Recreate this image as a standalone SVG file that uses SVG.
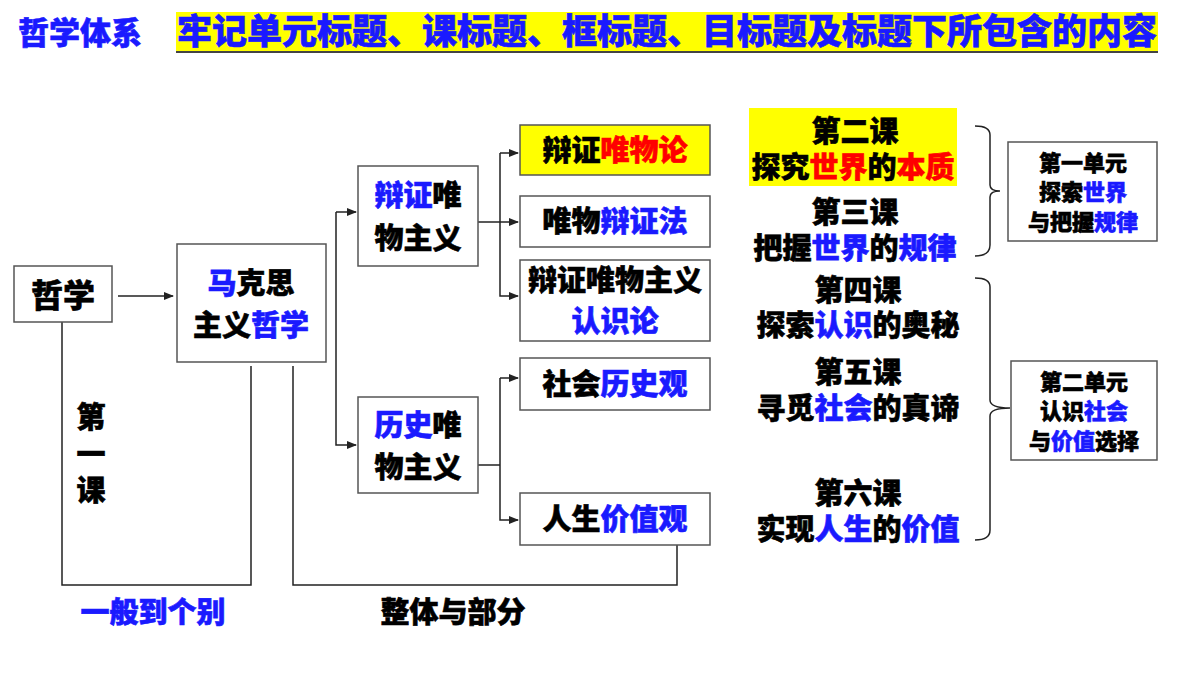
<svg xmlns="http://www.w3.org/2000/svg" width="1200" height="675" viewBox="0 0 1200 675">
<style>
text{font-family:"Noto Sans CJK SC","Liberation Sans",sans-serif;font-weight:900;fill:#000;text-anchor:middle;stroke:#000;stroke-width:0.6}
.b{fill:#1a1aff;stroke:#1a1aff}.r{fill:#ff0000;stroke:#ff0000}
.box{fill:#fff;stroke:#555;stroke-width:1.5}
.ln{fill:none;stroke:#222;stroke-width:1.5}
.t28{font-size:32px}.t26{font-size:29px}.t21{font-size:22px}
</style>
<defs><marker id="ar" viewBox="0 0 10 10" refX="9" refY="5" markerWidth="7" markerHeight="7" orient="auto"><path d="M0,1 L10,5 L0,9 z" fill="#222"/></marker></defs>
<rect width="1200" height="675" fill="#fff"/>
<g id="title">
<text x="18" y="44" class="b" style="font-size:31px;text-anchor:start">哲学体系</text>
<rect x="176" y="12" width="982" height="40" fill="#ffff00"/>
<line x1="176" y1="52" x2="1158" y2="52" stroke="#444" stroke-width="2"/>
<text x="667" y="44" class="b" style="font-size:35px">牢记单元标题、课标题、框标题、目标题及标题下所包含的内容</text>
</g>
<g id="connectors">
<line class="ln" x1="118" y1="296" x2="173" y2="296" marker-end="url(#ar)"/>
<polyline class="ln" points="336,212 336,445 356,445" marker-end="url(#ar)"/>
<line class="ln" x1="336" y1="212" x2="356" y2="212" marker-end="url(#ar)"/>
<line class="ln" x1="478" y1="222" x2="518" y2="222" marker-end="url(#ar)"/>
<polyline class="ln" points="500,153 500,296 518,296" marker-end="url(#ar)"/>
<line class="ln" x1="500" y1="153" x2="518" y2="153" marker-end="url(#ar)"/>
<line class="ln" x1="478" y1="465" x2="500" y2="465"/>
<polyline class="ln" points="500,378 500,520 518,520" marker-end="url(#ar)"/>
<line class="ln" x1="500" y1="378" x2="518" y2="378" marker-end="url(#ar)"/>
<polyline class="ln" points="62,322 62,585 251,585 251,366"/>
<polyline class="ln" points="293,366 293,585 677,585 677,545"/>
<path class="ln" d="M975,126 Q990,126 990,135 L990,185 Q990,191 1000,191 Q990,191 990,197 L990,245 Q990,256 975,256"/>
<path class="ln" d="M975,278 Q990,278 990,287 L990,400 Q990,408 1010,408 Q990,408 990,416 L990,530 Q990,540 975,540"/>
</g>
<g id="n-zhexue"><rect class="box" x="14" y="266" width="98" height="56"/><text x="63" y="307" class="t28">哲学</text></g>
<g id="n-makesi"><rect class="box" x="177" y="244" width="149" height="118"/><text x="251" y="294" class="t26"><tspan class="b">马</tspan>克思</text><text x="251" y="336" class="t26">主义<tspan class="b">哲学</tspan></text></g>
<g id="n-bianzheng"><rect class="box" x="358" y="166" width="120" height="100"/><text x="418" y="206" class="t26"><tspan class="b">辩证</tspan>唯</text><text x="418" y="249" class="t26">物主义</text></g>
<g id="n-lishi"><rect class="box" x="358" y="397" width="120" height="96"/><text x="418" y="436" class="t26"><tspan class="b">历史</tspan>唯</text><text x="418" y="478" class="t26">物主义</text></g>
<g id="n-weiwulun"><rect x="520" y="125" width="190" height="50" fill="#ffff00" stroke="#555" stroke-width="1.5"/><text x="615" y="161" class="t26">辩证<tspan class="r">唯物论</tspan></text></g>
<g id="n-bianzhengfa"><rect class="box" x="520" y="196" width="190" height="51"/><text x="615" y="232" class="t26">唯物<tspan class="b">辩证法</tspan></text></g>
<g id="n-renshilun"><rect class="box" x="520" y="260" width="190" height="81"/><text x="615" y="291" class="t26">辩证唯物主义</text><text x="615" y="332" class="t26 b">认识论</text></g>
<g id="n-lishiguan"><rect class="box" x="520" y="358" width="190" height="52"/><text x="615" y="395" class="t26">社会<tspan class="b">历史观</tspan></text></g>
<g id="n-jiazhiguan"><rect class="box" x="520" y="493" width="190" height="52"/><text x="615" y="530" class="t26">人生<tspan class="b">价值观</tspan></text></g>
<g id="labels">
<text x="91" y="428" class="t26">第</text><text x="91" y="465" class="t26">一</text><text x="91" y="501" class="t26">课</text>
<text x="153" y="623" class="t26 b">一般到个别</text>
<text x="453" y="623" class="t26">整体与部分</text>
</g>
<g id="lessons">
<rect x="749" y="108" width="208" height="78" fill="#ffff00"/>
<text x="855" y="142" class="t26">第二课</text><text x="853" y="178" class="t26">探究<tspan class="r">世界</tspan>的<tspan class="r">本质</tspan></text>
<text x="855" y="223" class="t26">第三课</text><text x="855" y="259" class="t26">把握<tspan class="b">世界</tspan>的<tspan class="b">规律</tspan></text>
<text x="858" y="301" class="t26">第四课</text><text x="858" y="336" class="t26">探索<tspan class="b">认识</tspan>的奥秘</text>
<text x="858" y="383" class="t26">第五课</text><text x="858" y="419" class="t26">寻觅<tspan class="b">社会</tspan>的真谛</text>
<text x="858" y="504" class="t26">第六课</text><text x="858" y="540" class="t26">实现<tspan class="b">人生</tspan>的<tspan class="b">价值</tspan></text>
</g>
<g id="n-unit1"><rect class="box" x="1008" y="142" width="149" height="99"/><text x="1083" y="171" class="t21">第一单元</text><text x="1083" y="200" class="t21">探索<tspan class="b">世界</tspan></text><text x="1083" y="230" class="t21">与把握<tspan class="b">规律</tspan></text></g>
<g id="n-unit2"><rect class="box" x="1011" y="361" width="146" height="99"/><text x="1084" y="390" class="t21">第二单元</text><text x="1084" y="419" class="t21">认识<tspan class="b">社会</tspan></text><text x="1084" y="449" class="t21">与<tspan class="b">价值</tspan>选择</text></g>
</svg>
